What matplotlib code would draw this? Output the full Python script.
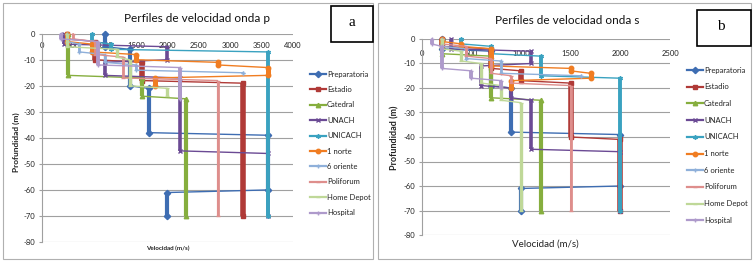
import matplotlib
matplotlib.use("Agg")
import matplotlib.pyplot as plt
from matplotlib.lines import Line2D
from matplotlib.patches import Rectangle

plt.rcParams['font.family'] = ['Lato', 'DejaVu Sans']

names = ["Preparatoria", "Estadio", "Catedral", "UNACH", "UNICACH",
         "1 norte", "6 oriente", "Poliforum", "Home Depot", "Hospital"]
colors = ["#3E6DB2", "#B03A37", "#86AE3E", "#6B4A94", "#3AA2C0",
          "#F07D22", "#8FB0DA", "#DE8E8C", "#BFD898", "#AE9ACB"]
markers = ["D", "s", "^", "x", (6, 2, 0), "o", "+", "_", "_", "+"]
vwidth = [3.0, 4.0, 3.0, 2.6, 2.8, 3.6, 2.0, 2.0, 2.4, 2.8]

# P-wave layers: velocity (m/s), top depth (m), bottom depth (m)
p_vel = {
    "Preparatoria": [1000, 1400, 1700, 3600, 2000],
    "Estadio": [400, 850, 1600, 3200],
    "Catedral": [420, 1600, 2300],
    "UNACH": [350, 2000, 1000, 2200, 3600],
    "UNICACH": [800, 1100, 3600],
    "1 norte": [400, 800, 1500, 2800, 3600, 1800],
    "6 oriente": [400, 600, 1000, 1500, 3200],
    "Poliforum": [500, 850, 1300, 2800],
    "Home Depot": [400, 1200, 1400, 2000],
    "Hospital": [300, 900, 2200],
}
p_top = {
    "Preparatoria": [0, 6, 21, 39, 61],
    "Estadio": [0, 3, 11, 19],
    "Catedral": [0, 17, 25],
    "UNACH": [0, 5, 11, 17, 46],
    "UNICACH": [0, 4, 7],
    "1 norte": [0, 4, 8, 11, 13, 17],
    "6 oriente": [0, 4, 8, 12, 15],
    "Poliforum": [0, 3, 9, 18],
    "Home Depot": [0, 6, 10, 21],
    "Hospital": [0, 3, 13],
}
p_bot = {
    "Preparatoria": [5, 20, 38, 60, 70],
    "Estadio": [2, 10, 18, 70],
    "Catedral": [16, 24, 70],
    "UNACH": [4, 10, 16, 45, 70],
    "UNICACH": [3, 6, 70],
    "1 norte": [3, 7, 10, 12, 16, 20],
    "6 oriente": [3, 7, 11, 14, 15],
    "Poliforum": [2, 8, 17, 70],
    "Home Depot": [5, 9, 20, 24],
    "Hospital": [2, 12, 25],
}

# S-wave layers
s_vel = {
    "Preparatoria": [200, 700, 900, 2000, 1000],
    "Estadio": [200, 700, 1000, 1500, 2000],
    "Catedral": [200, 700, 1200],
    "UNACH": [300, 1100, 600, 900, 1100, 2000],
    "UNICACH": [400, 700, 1200, 2000],
    "1 norte": [200, 400, 700, 1500, 1700, 900],
    "6 oriente": [200, 450, 800, 1600],
    "Poliforum": [200, 450, 700, 900, 1500],
    "Home Depot": [200, 400, 600, 800, 1000],
    "Hospital": [100, 200, 500, 800],
}
s_top = {
    "Preparatoria": [0, 5, 20, 39, 61],
    "Estadio": [0, 4, 13, 18, 41],
    "Catedral": [0, 7, 25],
    "UNACH": [0, 5, 11, 20, 25, 46],
    "UNICACH": [0, 3, 7, 16],
    "1 norte": [0, 2, 4, 12, 14, 17],
    "6 oriente": [0, 4, 9, 15],
    "Poliforum": [0, 3, 8, 15, 19],
    "Home Depot": [0, 5, 10, 19, 26],
    "Hospital": [0, 3, 13, 17],
}
s_bot = {
    "Preparatoria": [4, 19, 38, 60, 70],
    "Estadio": [3, 12, 17, 40, 70],
    "Catedral": [6, 24, 70],
    "UNACH": [4, 10, 19, 24, 45, 70],
    "UNICACH": [2, 6, 15, 70],
    "1 norte": [1, 3, 11, 13, 16, 20],
    "6 oriente": [3, 8, 14, 15],
    "Poliforum": [2, 7, 14, 18, 70],
    "Home Depot": [4, 9, 18, 25, 70],
    "Hospital": [2, 12, 16, 20],
}

p_xticks = [0, 500, 1000, 1500, 2000, 2500, 3000, 3500, 4000]
s_xticks = [0, 500, 1000, 1500, 2000, 2500]
y_ticks = [0, -10, -20, -30, -40, -50, -60, -70, -80]

W, H = 753, 263
fig = plt.figure(figsize=(W / 100, H / 100), dpi=100)


def fx(px):
    return px / W


def fy(py):
    return 1 - py / H


def draw_panel(ax, vel, top, bot, xticks, xmax, pad):
    for gy in y_ticks:
        ax.axhline(gy, color="#A0A0A0", lw=0.8, zorder=0)
    for i, n in enumerate(names):
        xs, ys = [], []
        for v, t, b in zip(vel[n], top[n], bot[n]):
            xs += [v, v]
            ys += [-t, -b]
        c = colors[i]
        z = 2 + i * 0.1
        ax.plot(xs, ys, color=c, lw=1.0, zorder=z, clip_on=False)
        ax.vlines(vel[n], [-b for b in bot[n]], [-t for t in top[n]],
                  color=c, lw=vwidth[i], zorder=z, clip_on=False)
        ax.plot(xs, ys, ls="none", marker=markers[i], ms=3.2, mew=1.0,
                color=c, zorder=z, clip_on=False)
    ax.set_xlim(0, xmax)
    ax.set_ylim(-80, 0)
    ax.set_xticks(xticks)
    ax.set_yticks(y_ticks)
    ax.set_yticklabels([str(t) for t in y_ticks])
    for s in ["top", "right"]:
        ax.spines[s].set_visible(False)
    ax.spines["bottom"].set_position(("data", 0))
    ax.spines["bottom"].set_visible(False)
    ax.spines["left"].set_color("#A0A0A0")
    ax.tick_params(axis="x", length=0, pad=pad, labelsize=5.5,
                   colors="#222222")
    ax.tick_params(axis="y", length=2.5, color="#A0A0A0", pad=2,
                   labelsize=5.5, labelcolor="#222222")
    ax.patch.set_alpha(0)


def draw_legend(x0, y0, dy, fs):
    for i, n in enumerate(names):
        y = fy(y0 + i * dy)
        fig.add_artist(Line2D([fx(x0), fx(x0 + 16)], [y, y], color=colors[i],
                              lw=1.6, transform=fig.transFigure))
        fig.add_artist(Line2D([fx(x0 + 8)], [y], color=colors[i], ls="none",
                              marker=markers[i], ms=3.2, mew=1.0,
                              transform=fig.transFigure))
        fig.text(fx(x0 + 17), y, n, fontsize=fs, va="center", ha="left",
                 color="#222222")


# borders
fig.add_artist(Rectangle((fx(3), fy(259)), fx(370), 256 / H, fill=False,
                         ec="#B0B0B0", lw=0.8, transform=fig.transFigure))
fig.add_artist(Rectangle((fx(378), fy(259)), fx(373), 256 / H, fill=False,
                         ec="#B0B0B0", lw=0.8, transform=fig.transFigure))

# panel a
axa = fig.add_axes([fx(41.7), fy(242), fx(251.3), 208.3 / H])
draw_panel(axa, p_vel, p_top, p_bot, p_xticks, 4000, 6)
fig.text(fx(197), fy(18), "Perfiles de velocidad onda p", fontsize=8.5,
         ha="center", va="center", color="#111111")
fig.text(fx(16), fy(142), "Profundidad (m)", fontsize=6, fontweight="bold",
         rotation=90, ha="center", va="center", color="#222222")
fig.text(fx(168), fy(248.5), "Velocidad (m/s)", fontsize=4.5,
         fontweight="bold", ha="center", va="center", color="#222222")
draw_legend(310, 74, 15.4, 5.5)

# panel b
axb = fig.add_axes([fx(421.7), fy(235), fx(248.3), 196 / H])
draw_panel(axb, s_vel, s_top, s_bot, s_xticks, 2500, 8)
fig.text(fx(567), fy(20), "Perfiles de velocidad onda s", fontsize=8.5,
         ha="center", va="center", color="#111111")
fig.text(fx(395), fy(138), "Profundidad (m)", fontsize=6.5, fontweight="bold",
         rotation=90, ha="center", va="center", color="#222222")
fig.text(fx(545), fy(244), "Velocidad (m/s)", fontsize=7,
         ha="center", va="center", color="#222222")
draw_legend(687, 70, 16.7, 5.5)

# letter boxes
fig.add_artist(Rectangle((fx(331), fy(42)), fx(42), 36 / H, fill=True,
                         fc="white", ec="black", lw=1.2,
                         transform=fig.transFigure, zorder=10))
fig.text(fx(352), fy(23), "a", fontsize=11, family="Liberation Serif",
         ha="center", va="center", zorder=11)
fig.add_artist(Rectangle((fx(697), fy(46)), fx(54), 36 / H, fill=True,
                         fc="white", ec="black", lw=1.2,
                         transform=fig.transFigure, zorder=10))
fig.text(fx(721), fy(26), "b", fontsize=11, family="Liberation Serif",
         ha="center", va="center", zorder=11)

fig.savefig("out.png", dpi=100)
